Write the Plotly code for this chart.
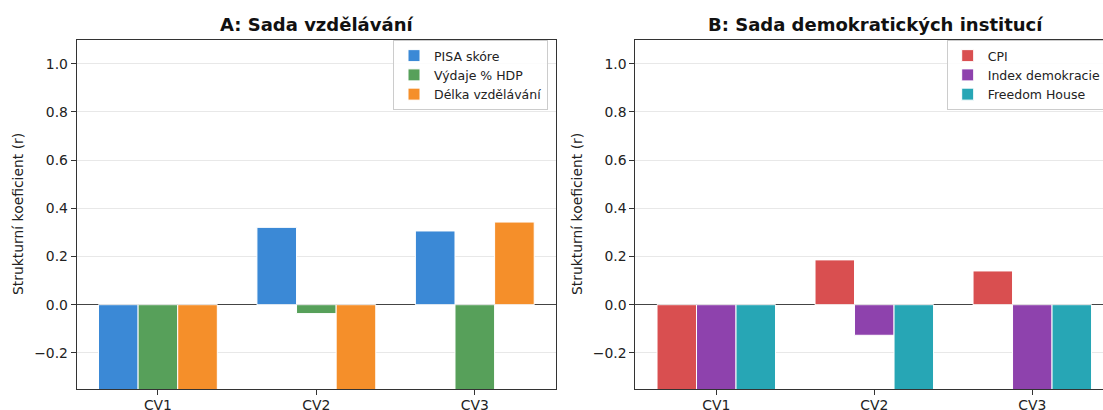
import plotly.graph_objects as go

categories = ["CV1", "CV2", "CV3"]

# Panel A – education set
edu_names = ["PISA skóre", "Výdaje % HDP", "Délka vzdělávání"]
edu_pisa = [-0.82, 0.321, 0.306]
edu_vydaje = [-0.58, -0.037, -0.71]
edu_delka = [-0.77, -0.45, 0.343]

# Panel B – democratic institutions set
dem_names = ["CPI", "Index demokracie", "Freedom House"]
dem_cpi = [-0.88, 0.186, 0.140]
dem_index = [-0.79, -0.127, -0.66]
dem_fh = [-0.85, -0.52, -0.74]

y_ticks = [-0.2, 0.0, 0.2, 0.4, 0.6, 0.8, 1.0]

edu_colors = ["#3b89d6", "#57a05a", "#f58f2a"]
dem_colors = ["#d94f50", "#8e42ad", "#27a6b5"]

W, H = 1103, 410
FONT = "DejaVu Sans"

fig = go.Figure()

for name, vals, col in zip(edu_names, [edu_pisa, edu_vydaje, edu_delka], edu_colors):
    fig.add_trace(go.Bar(x=categories, y=vals, name=name, marker=dict(color=col, line=dict(color="white", width=1)),
                         xaxis="x", yaxis="y", legend="legend"))
for name, vals, col in zip(dem_names, [dem_cpi, dem_index, dem_fh], dem_colors):
    fig.add_trace(go.Bar(x=categories, y=vals, name=name, marker=dict(color=col, line=dict(color="white", width=1)),
                         xaxis="x2", yaxis="y2", legend="legend2"))

def px_x(p):
    return p / W

def px_y(p):
    return 1 - p / H

axis_common = dict(showline=True, linecolor="#333333", linewidth=1, ticks="outside", ticklen=5,
                   tickcolor="#333333", tickwidth=1, tickfont=dict(family=FONT, size=13.9, color="#222222"))

yaxis_common = dict(axis_common, range=[-0.35, 1.1], tickvals=y_ticks, tickformat=".1f",
                    showgrid=True, gridcolor="#e8e8e8", gridwidth=1,
                    zeroline=True, zerolinecolor="#444444", zerolinewidth=1.2, layer="above traces")

fig.update_layout(
    width=W, height=H,
    margin=dict(l=0, r=0, t=0, b=0, autoexpand=False),
    paper_bgcolor="white", plot_bgcolor="white",
    barmode="group", bargap=0.25, bargroupgap=0.0,
    font=dict(family=FONT, size=13.9, color="#222222"),
    xaxis=dict(axis_common, domain=[px_x(76.7), px_x(556)], range=[-0.5125, 2.5125], mirror=True,
               showgrid=False, anchor="y", layer="above traces", automargin=False, ticklabelstandoff=-2),
    yaxis=dict(yaxis_common, domain=[px_y(389), px_y(39.7)], anchor="x", mirror=True, automargin=False),
    xaxis2=dict(axis_common, domain=[px_x(635.3), 1.0], range=[-0.5125, 2.4475], mirror=True,
                showgrid=False, anchor="y2", layer="above traces", automargin=False, ticklabelstandoff=-2),
    yaxis2=dict(yaxis_common, domain=[px_y(389), px_y(39.7)], anchor="x2", mirror=False, automargin=False),
    legend=dict(xref="paper", yref="paper", x=px_x(548), y=px_y(40), xanchor="right", yanchor="top",
                bgcolor="rgba(255,255,255,0.85)", bordercolor="#cccccc", borderwidth=1,
                font=dict(family=FONT, size=12.5, color="#222222")),
    legend2=dict(xref="paper", yref="paper", x=px_x(946.7), y=px_y(40), xanchor="left", yanchor="top",
                 bgcolor="rgba(255,255,255,0.85)", bordercolor="#cccccc", borderwidth=1,
                 font=dict(family=FONT, size=12.5, color="#222222")),
    annotations=[
        dict(text="<b>A: Sada vzdělávání</b>", x=px_x(316.3), y=px_y(24), xref="paper", yref="paper",
             showarrow=False, xanchor="center", yanchor="middle", font=dict(family=FONT, size=18, color="#111111")),
        dict(text="<b>B: Sada demokratických institucí</b>", x=px_x(875), y=px_y(24), xref="paper", yref="paper",
             showarrow=False, xanchor="center", yanchor="middle", font=dict(family=FONT, size=18, color="#111111")),
        dict(text="Strukturní koeficient (r)", x=px_x(18), y=px_y(214), xref="paper", yref="paper",
             showarrow=False, textangle=-90, xanchor="center", yanchor="middle", font=dict(family=FONT, size=13.9, color="#222222")),
        dict(text="Strukturní koeficient (r)", x=px_x(577), y=px_y(214), xref="paper", yref="paper",
             showarrow=False, textangle=-90, xanchor="center", yanchor="middle", font=dict(family=FONT, size=13.9, color="#222222")),
    ],
)

fig.write_html("out.html", config={"displayModeBar": False},
               post_script="document.body.style.margin='0';document.body.style.overflow='hidden';")
